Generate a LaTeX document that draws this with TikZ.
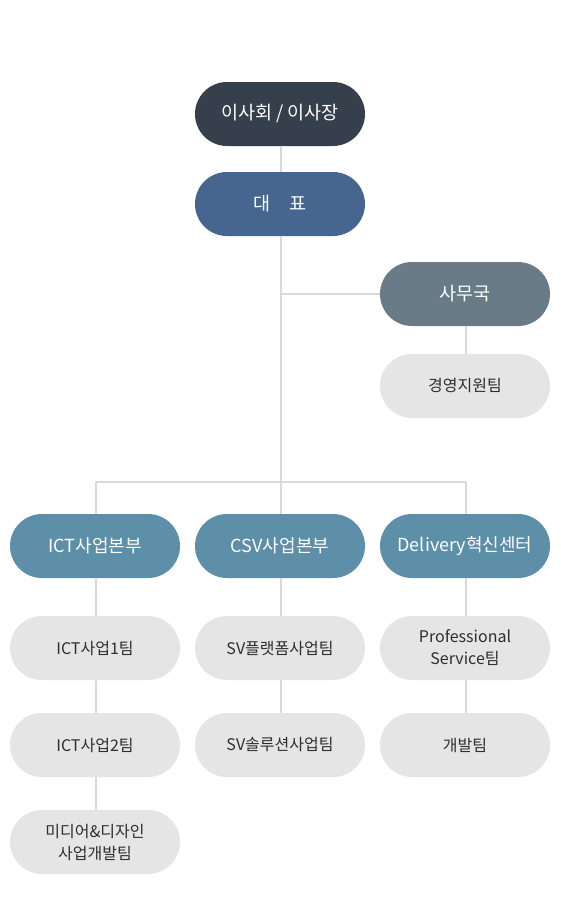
\documentclass[tikz,border=0pt]{standalone}
\usepackage{fontspec}
\setmainfont{Noto Sans CJK KR}
\begin{document}
\begin{tikzpicture}[x=1pt,y=-1pt,
  pill/.style={rectangle, rounded corners=32pt, minimum width=170pt, minimum height=64pt, inner sep=0pt, align=center, font=\fontsize{18.5}{22}\selectfont},
  board/.style={pill, fill=topdark, text=white},
  ceo/.style={pill, fill=ceoblue, text=white},
  office/.style={pill, fill=officegray, text=white},
  division/.style={pill, fill=divblue, text=white, font=\fontsize{18}{22}\selectfont},
  team/.style={pill, fill=teamgray, text=textdark, font=\fontsize{16}{22}\selectfont},
  link/.style={draw=linegray, line width=2pt}]
\definecolor{topdark}{HTML}{363F4C}
\definecolor{ceoblue}{HTML}{46668F}
\definecolor{officegray}{HTML}{6A7B88}
\definecolor{divblue}{HTML}{5E8FA9}
\definecolor{teamgray}{HTML}{E5E5E5}
\definecolor{textdark}{HTML}{2E2E2E}
\definecolor{linegray}{HTML}{D9D9D9}
\useasboundingbox[fill=white] (0,0) rectangle (560,900);

\coordinate (jt) at (281,294);
\coordinate (hb) at (281,482);
\coordinate (hl) at (96,482);
\coordinate (hr) at (466,482);

\node[board] (bd) at (280,114) {이사회 / 이사장};
\node[ceo] (ceo) at (280,204) {대\quad 표};
\node[office] (off) at (465,294) {사무국};
\node[team] (mgmt) at (465,386) {경영지원팀};

\node[division] (ict) at (95,546) {ICT사업본부};
\node[division] (csv) at (280,546) {CSV사업본부};
\node[division] (dlv) at (465,546) {Delivery혁신센터};

\node[team] (ict1) at (95,648) {ICT사업1팀};
\node[team] (ict2) at (95,745) {ICT사업2팀};
\node[team] (ict3) at (95,842) {미디어\&디자인\\사업개발팀};
\node[team] (sv1) at (280,648) {SV플랫폼사업팀};
\node[team] (sv2) at (280,745) {SV솔루션사업팀};
\node[team] (ps) at (465,648) {Professional\\Service팀};
\node[team] (dev) at (465,745) {개발팀};

\draw[link] (bd.south -| jt) -- (ceo.north -| jt);
\draw[link] (ceo.south -| jt) -- (hb);
\draw[link] (jt) -- (jt -| off.west);
\draw[link] (off.south -| hr) -- (mgmt.north -| hr);
\draw[link] (hl) -- (hr);
\draw[link] (hl) -- (ict.north -| hl);
\draw[link] (hb) -- (csv.north -| hb);
\draw[link] (hr) -- (dlv.north -| hr);
\draw[link] (ict.south -| hl) -- (ict1.north -| hl);
\draw[link] (ict1.south -| hl) -- (ict2.north -| hl);
\draw[link] (ict2.south -| hl) -- (ict3.north -| hl);
\draw[link] (csv.south -| hb) -- (sv1.north -| hb);
\draw[link] (sv1.south -| hb) -- (sv2.north -| hb);
\draw[link] (dlv.south -| hr) -- (ps.north -| hr);
\draw[link] (ps.south -| hr) -- (dev.north -| hr);
\end{tikzpicture}
\end{document}
